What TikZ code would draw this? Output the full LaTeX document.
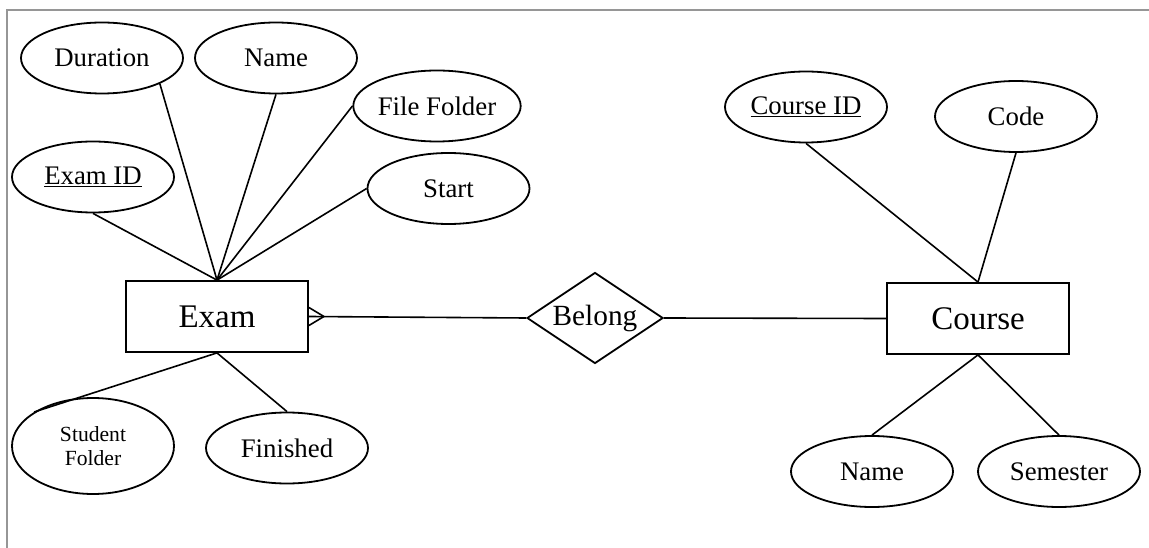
\documentclass[tikz,border=0pt]{standalone}
\usepackage{fontspec}
\setmainfont{Liberation Serif}
\usetikzlibrary{shapes.geometric}
\definecolor{framegray}{RGB}{150,150,150}

\begin{document}
\begin{tikzpicture}[x=1pt,y=-1pt,
  link/.style={line width=1.6pt, black},
  attr/.style={draw, line width=1.8pt, ellipse, inner sep=0pt,
    minimum width=162pt, minimum height=71pt,
    font=\fontsize{26.8}{30}\selectfont},
  entity/.style={draw, line width=1.8pt, rectangle, inner sep=0pt,
    minimum width=182pt, minimum height=71pt,
    font=\fontsize{33}{36}\selectfont},
  relation/.style={draw, line width=1.8pt, diamond, aspect=1.5, inner sep=0pt,
    minimum width=136pt, minimum height=91pt,
    font=\fontsize{29.3}{32}\selectfont},
  frame/.style={line width=1.8pt, draw=framegray}]

\useasboundingbox (0,0) rectangle (1149,548);

% page frame (top and left edges)
\draw[frame] (7,548) -- (7,10) -- (1149,10);

% entities and relationship
\node[entity] (exam) at (217,316.5) {Exam};
\node[entity] (course) at (978,318.5) {Course};
\node[relation] (belong) at (595,318) {Belong};

% attributes of Exam
\node[attr] (duration) at (102,58) {Duration};
\node[attr] (ename) at (276,58) {Name};
\node[attr] (examid) at (93,177) {\underline{Exam ID}};
\node[attr] (filefolder) at (437,106) {File Folder};
\node[attr] (start) at (448.5,188.5) {Start};
\node[attr, minimum height=96pt, align=center,
  font=\fontsize{21.6}{24}\selectfont] (studentfolder) at (93,446) {Student\\Folder};
\node[attr] (finished) at (287,448) {Finished};

% attributes of Course
\node[attr] (courseid) at (806,107) {\underline{Course ID}};
\node[attr] (code) at (1016,116.5) {Code};
\node[attr] (cname) at (872,471.5) {Name};
\node[attr] (semester) at (1059,471.5) {Semester};

% attribute links
\draw[link] (duration.-24.5) -- (exam.north);
\draw[link] (ename.south) -- (exam.north);
\draw[link] (examid.south) -- (exam.north);
\draw[link] (filefolder.west) -- (exam.north);
\draw[link] (start.west) -- (exam.north);
\draw[link] (studentfolder.150.5) -- (exam.south);
\draw[link] (finished.north) -- (exam.south);
\draw[link] (courseid.south) -- (course.north);
\draw[link] (code.south) -- (course.north);
\draw[link] (cname.north) -- (course.south);
\draw[link] (semester.north) -- (course.south);

% relationship links with crow's foot at Exam
\draw[link] (exam.east) -- (belong.west);
\draw[link] (belong.east) -- (course.west);
\coordinate (foot) at ([xshift=15pt]exam.east);
\draw[link] ([yshift=9pt]exam.east) -- (foot) -- ([yshift=-9pt]exam.east);

\end{tikzpicture}
\end{document}
